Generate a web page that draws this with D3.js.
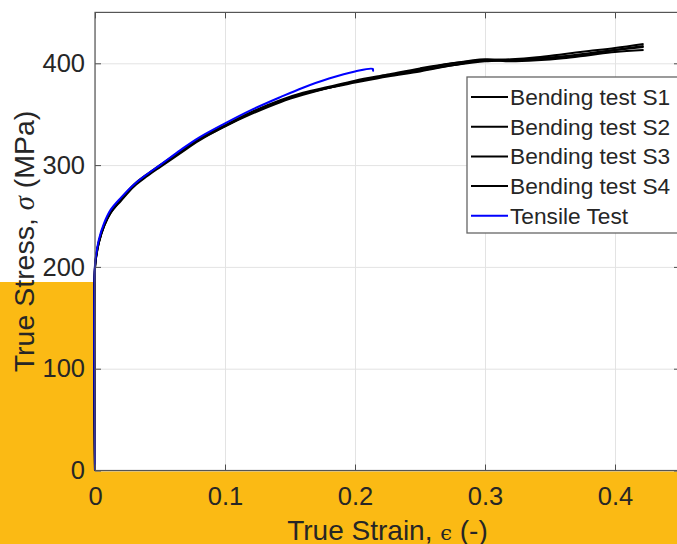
<!DOCTYPE html>
<html>
<head>
<meta charset="utf-8">
<script src="https://cdn.jsdelivr.net/npm/d3@7"></script>
<style>
  body { margin: 0; background: #ffffff; }
  svg { display: block; font-family: "Liberation Sans", Arial, sans-serif; }
</style>
</head>
<body>
<div id="vis-container"></div>
<script>
// chart data
var xTicks = [0, 0.1, 0.2, 0.3, 0.4];
var yTicks = [0, 100, 200, 300, 400];
var seriesNames = ["Bending test S1", "Bending test S2", "Bending test S3", "Bending test S4", "Tensile Test"];
var seriesColors = ["#000000", "#000000", "#000000", "#000000", "#0000ff"];

var bendStrain = [0, 0, 0.001, 0.003, 0.007, 0.012, 0.02, 0.03, 0.04, 0.05, 0.066, 0.08, 0.1, 0.12, 0.143, 0.16, 0.18, 0.2, 0.225, 0.25, 0.275, 0.3, 0.32, 0.34, 0.36, 0.38, 0.4, 0.422];
var bendS1 = [0, 200, 211, 225, 241, 254, 266, 280, 290, 299, 313, 325, 339, 352, 364, 371, 377, 383, 389, 395, 400, 403, 404, 406, 409, 412, 415, 419];
var bendS2 = [0, 198, 210, 224, 240, 253, 266, 280, 290, 299, 313, 325, 338, 351, 363, 370, 376, 382, 388, 393, 398, 402, 403, 405, 407, 410, 413, 416];
var bendS3 = [0, 201, 212, 225, 241, 254, 267, 281, 291, 300, 314, 326, 339, 351, 363, 370, 376, 381, 387, 392, 398, 403, 402, 403, 405, 408, 411, 413];
var bendS4 = [0, 199, 211, 224, 240, 253, 265, 279, 289, 298, 312, 324, 338, 350, 362, 369, 376, 382, 388, 394, 400, 404, 403, 404, 406, 409, 413, 417];

var tensileStrain = [0, 0, 0.001, 0.003, 0.007, 0.012, 0.02, 0.03, 0.04, 0.05, 0.066, 0.08, 0.1, 0.12, 0.143, 0.16, 0.18, 0.2, 0.2136, 0.2138];
var tensileStress = [0, 202, 213, 227, 243, 256, 268, 281, 291, 300, 315, 327, 341, 354, 367, 376, 385, 392, 394.5, 392];

var stressstrain = (function () {

	// svg container
	var width = 677;
	var height = 544;

	// plot box
	var pLeft = 95, pRight = 680, pTop = 12.4, pBottom = 470.5;
	var textColor = "#262626";

	return {
		draw: function () {
			var svg = d3.select("#vis-container")
				.append("svg")
				.attr("width", width)
				.attr("height", height);

			// orange band behind the lower part of the figure
			svg.append("rect")
				.attr("x", 0)
				.attr("y", 282)
				.attr("width", width)
				.attr("height", height - 282)
				.attr("fill", "#fbba14");

			// white plot area
			svg.append("rect")
				.attr("x", pLeft)
				.attr("y", pTop)
				.attr("width", pRight - pLeft)
				.attr("height", pBottom - pTop)
				.attr("fill", "#ffffff");

			var x = d3.scaleLinear().domain([0, 0.45]).range([pLeft, pRight]);
			var y = d3.scaleLinear().domain([0, 450]).range([pBottom, pTop]);

			// grid lines
			svg.append("g")
				.attr("transform", "translate(0," + pBottom + ")")
				.call(d3.axisBottom(x).tickValues(xTicks).tickSize(-(pBottom - pTop)).tickFormat(""))
				.call(function (g) { g.select(".domain").remove(); })
				.selectAll("line").attr("stroke", "#e3e3e3").attr("stroke-width", 1);

			svg.append("g")
				.attr("transform", "translate(" + pLeft + ",0)")
				.call(d3.axisLeft(y).tickValues(yTicks).tickSize(-(pRight - pLeft)).tickFormat(""))
				.call(function (g) { g.select(".domain").remove(); })
				.selectAll("line").attr("stroke", "#e3e3e3").attr("stroke-width", 1);

			// curves
			var line = d3.line()
				.x(function (d) { return x(d[0]); })
				.y(function (d) { return y(d[1]); })
				.curve(d3.curveCatmullRom);

			var bendSeries = [bendS1, bendS2, bendS3, bendS4];
			for (var i = 0; i < bendSeries.length; ++i) {
				var pts = bendStrain.map(function (s, k) { return [s, bendSeries[i][k]]; });
				svg.append("path")
					.attr("d", line(pts))
					.attr("fill", "none")
					.attr("stroke", seriesColors[i])
					.attr("stroke-width", 2);
			}

			var tensilePts = tensileStrain.map(function (s, k) { return [s, tensileStress[k]]; });
			svg.append("path")
				.attr("d", line(tensilePts))
				.attr("fill", "none")
				.attr("stroke", seriesColors[4])
				.attr("stroke-width", 2);

			// axes with inward ticks
			var xAxis = svg.append("g")
				.attr("transform", "translate(0," + pBottom + ")")
				.call(d3.axisBottom(x).tickValues(xTicks).tickSizeInner(-6).tickSizeOuter(0).tickPadding(16)
					.tickFormat(function (d) { return d; }));
			xAxis.select(".domain").remove();

			var yAxis = svg.append("g")
				.attr("transform", "translate(" + pLeft + ",0)")
				.call(d3.axisLeft(y).tickValues(yTicks).tickSizeInner(-6).tickSizeOuter(0).tickPadding(10));
			yAxis.select(".domain").remove();

			var topAxis = svg.append("g")
				.attr("transform", "translate(0," + pTop + ")")
				.call(d3.axisTop(x).tickValues(xTicks).tickSizeInner(-6).tickSizeOuter(0).tickFormat(""));
			topAxis.select(".domain").remove();

			var rightAxis = svg.append("g")
				.attr("transform", "translate(" + pRight + ",0)")
				.call(d3.axisRight(y).tickValues(yTicks).tickSizeInner(-6).tickSizeOuter(0).tickFormat(""));
			rightAxis.select(".domain").remove();

			[xAxis, yAxis, topAxis, rightAxis].forEach(function (a) {
				a.selectAll(".tick line").attr("stroke", "#4d4d4d");
			});

			[xAxis, yAxis].forEach(function (a) {
				a.selectAll("text")
					.attr("fill", textColor)
					.style("font-size", "25.5px")
					.style("font-family", "'Liberation Sans', Arial, sans-serif");
			});

			// axes box
			svg.append("rect")
				.attr("x", pLeft)
				.attr("y", pTop)
				.attr("width", pRight - pLeft)
				.attr("height", pBottom - pTop)
				.attr("fill", "none")
				.attr("stroke", "#555555")
				.attr("stroke-width", 1.2);

			// axis labels
			var xLabel = svg.append("text")
				.attr("x", (pLeft + pRight) / 2)
				.attr("y", 540)
				.attr("text-anchor", "middle")
				.attr("fill", textColor)
				.style("font-size", "28px");
			xLabel.append("tspan").text("True Strain, ");
			xLabel.append("tspan").style("font-family", "'DejaVu Serif', serif").style("font-size", "21px").text("ϵ");
			xLabel.append("tspan").text(" (-)");

			var yLabel = svg.append("text")
				.attr("transform", "translate(34," + ((pTop + pBottom) / 2) + ") rotate(-90)")
				.attr("text-anchor", "middle")
				.attr("fill", textColor)
				.style("font-size", "28.5px");
			yLabel.append("tspan").text("True Stress, ");
			yLabel.append("tspan").style("font-family", "'Liberation Serif', serif").style("font-style", "italic").text("σ");
			yLabel.append("tspan").text(" (MPa)");

			// legend
			var legend = svg.append("g");
			legend.append("rect")
				.attr("x", 467)
				.attr("y", 77)
				.attr("width", 230)
				.attr("height", 156)
				.attr("fill", "#ffffff")
				.attr("stroke", "#666666")
				.attr("stroke-width", 1.3);

			for (var j = 0; j < seriesNames.length; ++j) {
				var ry = 97 + j * 29.7;
				legend.append("line")
					.attr("x1", 471)
					.attr("x2", 508)
					.attr("y1", ry)
					.attr("y2", ry)
					.attr("stroke", seriesColors[j])
					.attr("stroke-width", 2);
				legend.append("text")
					.attr("x", 510)
					.attr("y", ry)
					.attr("dy", "0.35em")
					.attr("fill", textColor)
					.style("font-size", "22.7px")
					.text(seriesNames[j]);
			}
		}
	};
})();

stressstrain.draw();
</script>
</body>
</html>
